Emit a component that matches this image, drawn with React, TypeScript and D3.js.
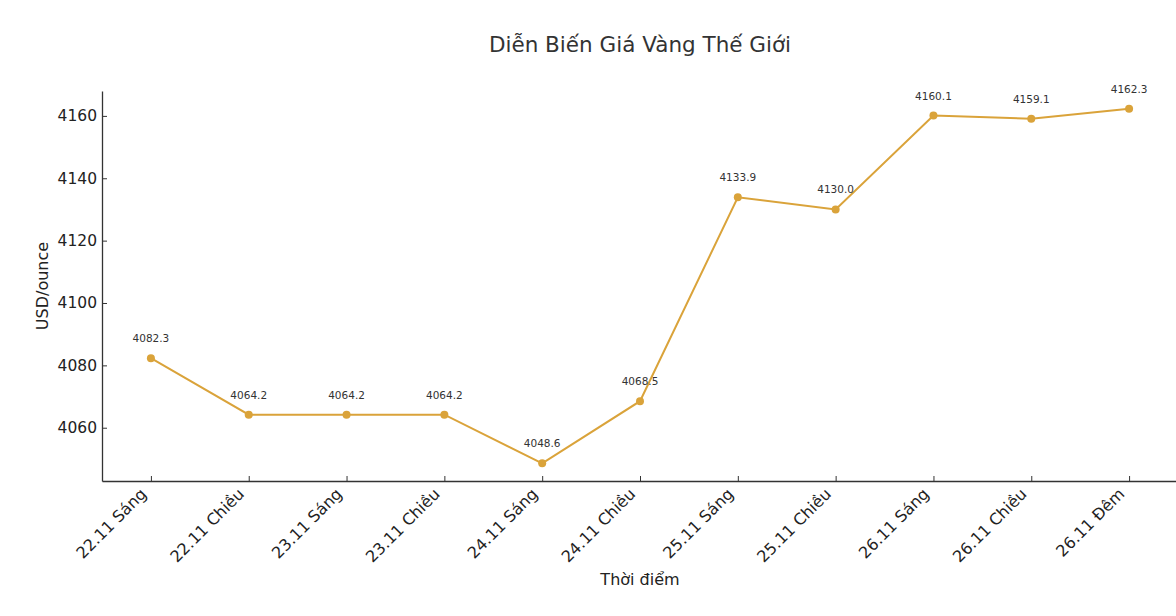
import React, { useEffect, useRef } from "react";
import * as d3 from "d3";

const categories = [
  "22.11 Sáng", "22.11 Chiều", "23.11 Sáng", "23.11 Chiều", "24.11 Sáng",
  "24.11 Chiều", "25.11 Sáng", "25.11 Chiều", "26.11 Sáng", "26.11 Chiều", "26.11 Đêm",
];
const prices = [4082.3, 4064.2, 4064.2, 4064.2, 4048.6, 4068.5, 4133.9, 4130.0, 4160.1, 4159.1, 4162.3];
const yTicks = [4060, 4080, 4100, 4120, 4140, 4160];

const W = 1176;
const H = 616;
const FONT = "DejaVu Sans, sans-serif";
const GOLD = "#daa33a";

const App = () => {
  const svgRef = useRef<SVGSVGElement | null>(null);

  useEffect(() => {
    document.body.style.margin = "0";
    if (!svgRef.current) return;
    const svg = d3.select(svgRef.current);
    svg.selectAll("*").remove();

    const margin = { top: 91, right: -2, bottom: 135, left: 102 };
    const width = W - margin.left - margin.right;
    const height = H - margin.top - margin.bottom;

    const g = svg.append("g").attr("transform", `translate(${margin.left},${margin.top})`);

    // matplotlib-style 5% margins
    const n = categories.length;
    const x = d3.scaleLinear().domain([-0.5, n - 1 + 0.5]).range([0, width]);
    const lo = d3.min(prices) ?? 0;
    const hi = d3.max(prices) ?? 1;
    const pad = (hi - lo) * 0.05;
    const y = d3.scaleLinear().domain([lo - pad, hi + pad]).range([height, 0]);

    // title
    svg.append("text")
      .attr("x", 640).attr("y", 52)
      .attr("text-anchor", "middle")
      .style("font-family", FONT).style("font-size", "21.5px").style("fill", "#333")
      .text("Diễn Biến Giá Vàng Thế Giới");

    // x axis
    const xAxis = g.append("g")
      .attr("transform", `translate(0,${height})`)
      .call(d3.axisBottom(x).tickValues(d3.range(n)).tickSize(-5).tickSizeOuter(0).tickFormat((d) => categories[d as number]));
    xAxis.select(".domain").attr("stroke", "#333").attr("stroke-width", 1.3);
    xAxis.selectAll(".tick line").attr("stroke", "#333");
    xAxis.selectAll("text")
      .style("font-family", FONT).style("font-size", "16px").style("fill", "#222")
      .attr("text-anchor", "end")
      .attr("dy", null).attr("y", 0)
      .attr("transform", "translate(-4,14) rotate(-45)");

    // y axis
    const yAxis = g.append("g")
      .call(d3.axisLeft(y).tickValues(yTicks).tickSize(-5).tickSizeOuter(0).tickPadding(5).tickFormat(d3.format("d")));
    yAxis.select(".domain").attr("stroke", "#333").attr("stroke-width", 1.3);
    yAxis.selectAll(".tick line").attr("stroke", "#333");
    yAxis.selectAll("text")
      .style("font-family", FONT).style("font-size", "15.5px").style("fill", "#222");

    // axis labels
    g.append("text")
      .attr("x", 538).attr("y", height + 104)
      .attr("text-anchor", "middle")
      .style("font-family", FONT).style("font-size", "16px").style("fill", "#222")
      .text("Thời điểm");
    g.append("text")
      .attr("transform", "rotate(-90)")
      .attr("x", -height / 2).attr("y", -54)
      .attr("text-anchor", "middle")
      .style("font-family", FONT).style("font-size", "16px").style("fill", "#222")
      .text("USD/ounce");

    // line
    const line = d3.line<number>().x((_, i) => x(i)).y((d) => y(d));
    g.append("path")
      .datum(prices)
      .attr("fill", "none")
      .attr("stroke", GOLD)
      .attr("stroke-width", 2)
      .attr("d", line);

    g.selectAll("circle.pt")
      .data(prices)
      .enter()
      .append("circle")
      .attr("class", "pt")
      .attr("cx", (_, i) => x(i))
      .attr("cy", (d) => y(d))
      .attr("r", 4)
      .attr("fill", GOLD);

    g.selectAll("text.val")
      .data(prices)
      .enter()
      .append("text")
      .attr("class", "val")
      .attr("x", (_, i) => x(i))
      .attr("y", (d) => y(d) - 16)
      .attr("text-anchor", "middle")
      .style("font-family", FONT).style("font-size", "10.5px").style("fill", "#333")
      .text((d) => d.toFixed(1));
  }, []);

  return <svg ref={svgRef} width={W} height={H} style={{ display: "block", background: "#fff" }} />;
};

export default App;
